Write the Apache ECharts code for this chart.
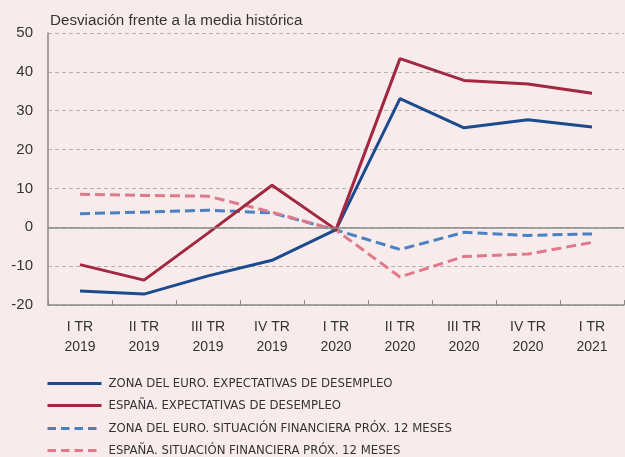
<!DOCTYPE html>
<html>
<head>
<meta charset="utf-8">
<script src="https://cdn.jsdelivr.net/npm/echarts@6/dist/echarts.min.js"></script>
<style>
  html, body { margin: 0; padding: 0; background: #f7ebec; }
  #chart { width: 625px; height: 457px; }
</style>
</head>
<body>
<div id="chart"></div>
<script>
const categories = ['I TR\n2019', 'II TR\n2019', 'III TR\n2019', 'IV TR\n2019', 'I TR\n2020', 'II TR\n2020', 'III TR\n2020', 'IV TR\n2020', 'I TR\n2021']
const euroDesempleo = [-16.4, -17.2, -12.5, -8.5, -0.6, 33.1, 25.6, 27.7, 25.8]
const espDesempleo = [-9.6, -13.6, -1.5, 10.8, -0.6, 43.4, 37.8, 36.9, 34.5]
const euroFinanciera = [3.5, 3.9, 4.4, 3.7, -0.7, -5.7, -1.3, -2.1, -1.7]
const espFinanciera = [8.5, 8.2, 8.0, 3.9, -0.7, -12.8, -7.5, -6.9, -3.9]
const seriesNames = [
  'ZONA DEL EURO. EXPECTATIVAS DE DESEMPLEO',
  'ESPAÑA. EXPECTATIVAS DE DESEMPLEO',
  'ZONA DEL EURO. SITUACIÓN FINANCIERA PRÓX. 12 MESES',
  'ESPAÑA. SITUACIÓN FINANCIERA PRÓX. 12 MESES'
]
const colors = ['#1c4a8e', '#a1283f', '#4a80c4', '#e07a8b']

const chart = echarts.init(document.getElementById('chart'))

function line (name, data, color, dashed) {
  return {
    name: name,
    type: 'line',
    data: data,
    symbol: 'none',
    z: dashed ? 3 : 4,
    lineStyle: { color: color, width: 3, type: dashed ? [10, 5] : 'solid' },
    itemStyle: { color: color }
  }
}

const series = [
  line(seriesNames[2], euroFinanciera, colors[2], true),
  line(seriesNames[3], espFinanciera, colors[3], true),
  line(seriesNames[0], euroDesempleo, colors[0], false),
  line(seriesNames[1], espDesempleo, colors[1], false)
]
// linea del cero
series[0].markLine = {
  silent: true,
  symbol: 'none',
  label: { show: false },
  lineStyle: { color: '#8a8a8a', width: 1.5, type: 'solid' },
  data: [{ yAxis: 0 }]
}

// una leyenda por fila
const legendTops = [372, 394, 417, 439]
const legends = seriesNames.map((n, i) => ({
  orient: 'horizontal',
  left: 41,
  top: legendTops[i],
  itemWidth: 54,
  itemHeight: 14,
  itemGap: 0,
  data: [n],
  itemStyle: { opacity: 0 },
  lineStyle: { width: 3, opacity: 1, type: i < 2 ? 'solid' : [8.5, 5] },
  textStyle: { fontSize: 13, color: '#333', fontFamily: 'DejaVu Sans Condensed', padding: [0, 0, 0, 2] }
}))

chart.setOption({
  backgroundColor: '#f7ebec',
  animation: false,
  textStyle: { fontFamily: 'Liberation Sans' },
  title: {
    text: 'Desviación frente a la media histórica',
    left: 45,
    top: 8,
    textStyle: { fontSize: 15.2, fontWeight: 'normal', color: '#333', fontFamily: 'Liberation Sans' }
  },
  grid: { left: 48, right: 1, top: 33, bottom: 152 },
  legend: legends,
  xAxis: {
    type: 'category',
    data: categories,
    boundaryGap: true,
    axisLine: { onZero: false, lineStyle: { color: '#8a8a8a', width: 1.5 } },
    axisTick: { show: true, inside: true, length: 5, lineStyle: { color: '#8a8a8a' } },
    axisLabel: { fontSize: 14, color: '#333', lineHeight: 20, margin: 12 },
    splitLine: { show: false }
  },
  yAxis: {
    type: 'value',
    min: -20,
    max: 50,
    interval: 10,
    axisLine: { show: true, lineStyle: { color: '#8a8a8a', width: 1.5 } },
    axisTick: { show: false },
    axisLabel: { fontSize: 15, color: '#333', margin: 15 },
    splitLine: { show: true, lineStyle: { color: '#b5b0b1', type: [4, 3] } }
  },
  series: series
})
</script>
</body>
</html>
